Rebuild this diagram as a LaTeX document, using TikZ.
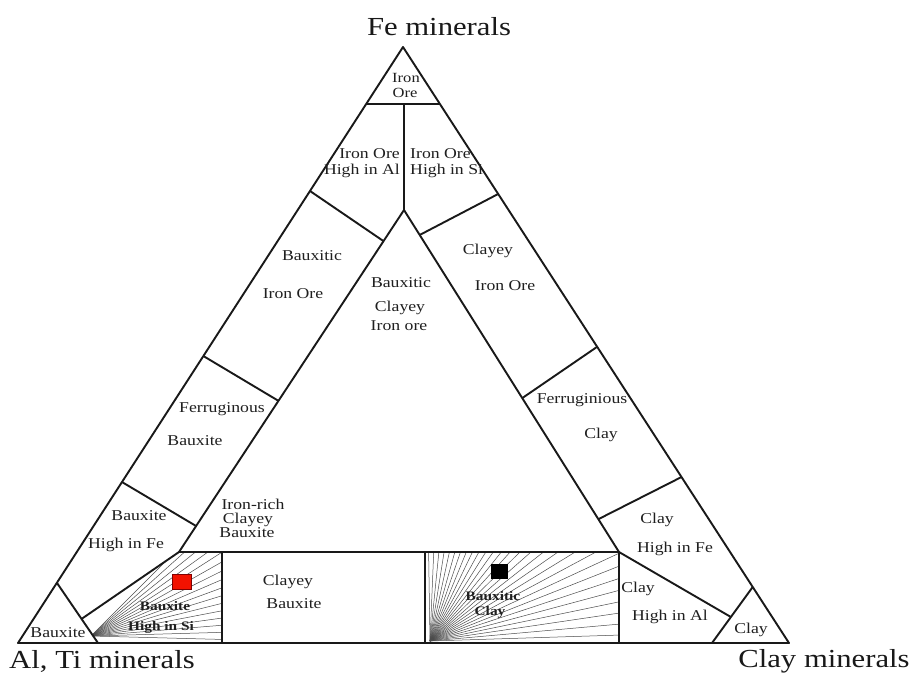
\documentclass[tikz,border=0pt]{standalone}
\usepackage{fontspec}
\setmainfont{Liberation Serif}
\usetikzlibrary{calc}
\begin{document}
\begin{tikzpicture}[x=1pt,y=-1pt,
  edge/.style={line width=1.9pt, line join=round, black!90},
  hatch/.style={line width=0.5pt, black!70},
  lbl/.style={font=\fontsize{15}{18}\selectfont, xscale=1.18, anchor=base, inner sep=0pt, text=black!88},
  lbs/.style={lbl, font=\fontsize{14}{16}\selectfont},
  lbb/.style={lbl, font=\fontsize{13}{15}\selectfont\bfseries},
  big/.style={font=\fontsize{26}{30}\selectfont, xscale=1.18, anchor=base, inner sep=0pt, text=black!90}]
\fill[white] (0,0) rectangle (911,673);
\useasboundingbox (0,0) rectangle (911,673);
% main corners
\coordinate (A) at (18,643);
\coordinate (B) at (789,643);
\coordinate (C) at (403,47);
\coordinate (I) at (404,210);
\coordinate (L) at (179,552);
\coordinate (R) at (619,552);
\coordinate (M) at (404,104);
\coordinate (V1t) at (222,552);
\coordinate (V1b) at (222,643);
\coordinate (V2t) at (425,552);
\coordinate (V2b) at (425,643);
\coordinate (BT1) at ($(C)!0.899!(A)$);
\coordinate (BT2) at (98,643);
\coordinate (P) at ($(BT1)!0.60!(BT2)$);
\coordinate (CT1) at ($(C)!0.906!(B)$);
\coordinate (CT2) at (712,643);
\coordinate (Q) at ($(CT1)!0.536!(CT2)$);
\coordinate (F1) at (91,636);
\coordinate (F2) at (430,641);
% hatching, left fan
\begin{scope}
  \clip (P) -- (L) -- (V1t) -- (V1b) -- (BT2) -- cycle;
  \foreach \a in {-1.5,1.6,...,46} \draw[hatch] (F1) -- ++(\a:300pt);
\end{scope}
% hatching, right fan
\begin{scope}
  \clip (V2t) rectangle (R |- V2b);
  \foreach \a in {1.8,5.1,...,92} \draw[hatch] (F2) -- ++(\a:400pt);
\end{scope}
% markers
\fill[red!85!orange!95!black, draw=red!50!black, line width=0.5pt] (172,574) rectangle (191,589);
\fill[black] (491,564) rectangle (508,579);
% outer and inner triangles
\draw[edge] (A) -- (B) -- (C) -- cycle;
\draw[edge] (I) -- (L) -- (R) -- cycle;
% top partitions
\draw[edge] ($(C)!0.0956!(A)$) -- ($(C)!0.0956!(B)$);
\draw[edge] (M) -- (I);
% left dividers
\draw[edge] ($(C)!0.2416!(A)$) -- ($(I)!0.091!(L)$);
\draw[edge] ($(C)!0.5185!(A)$) -- ($(I)!0.558!(L)$);
\draw[edge] ($(C)!0.7299!(A)$) -- ($(I)!0.924!(L)$);
% right dividers
\draw[edge] ($(C)!0.2466!(B)$) -- ($(I)!0.073!(R)$);
\draw[edge] ($(C)!0.503!(B)$) -- ($(I)!0.55!(R)$);
\draw[edge] ($(C)!0.7215!(B)$) -- ($(I)!0.904!(R)$);
% bottom partitions
\draw[edge] (BT1) -- (BT2);
\draw[edge] (L) -- (P);
\draw[edge] (V1t) -- (V1b);
\draw[edge] (V2t) -- (V2b);
\draw[edge] (R) -- (R |- V2b);
\draw[edge] (CT1) -- (CT2);
\draw[edge] (R) -- (Q);
% corner titles
\node[big] (tFe) at (439,35) {Fe minerals};
\node[big] (tAl) at (102,668) {Al, Ti minerals};
\node[big] (tCl) at (824,667) {Clay minerals};
% region labels
\node[lbs] (t1) at (406,82) {Iron};
\node[lbs] (t2) at (405,97) {Ore};
\node[lbl, anchor=base east] (t3) at (400,158) {Iron Ore};
\node[lbl, anchor=base east] (t4) at (400,174) {High in Al};
\node[lbl, anchor=base west] (t5) at (410,158) {Iron Ore};
\node[lbl, anchor=base west] (t6) at (410,174) {High in Si};
\node[lbl] (t7) at (312,260) {Bauxitic};
\node[lbl] (t8) at (293,298) {Iron Ore};
\node[lbl] (t9) at (401,287) {Bauxitic};
\node[lbl] (t10) at (400,311) {Clayey};
\node[lbl] (t11) at (399,330) {Iron ore};
\node[lbl] (t12) at (488,254) {Clayey};
\node[lbl] (t13) at (505,290) {Iron Ore};
\node[lbl] (t14) at (222,412) {Ferruginous};
\node[lbl] (t15) at (195,445) {Bauxite};
\node[lbl] (t16) at (582,403) {Ferruginious};
\node[lbl] (t17) at (601,438) {Clay};
\node[lbl] (t18) at (139,520) {Bauxite};
\node[lbl] (t19) at (126,548) {High in Fe};
\node[lbl] (t20) at (253,509) {Iron-rich};
\node[lbl] (t21) at (248,523) {Clayey};
\node[lbl] (t22) at (247,537) {Bauxite};
\node[lbl] (t23) at (657,523) {Clay};
\node[lbl] (t24) at (675,552) {High in Fe};
\node[lbl] (t25) at (288,585) {Clayey};
\node[lbl] (t26) at (294,608) {Bauxite};
\node[lbl] (t27) at (638,592) {Clay};
\node[lbl] (t28) at (670,620) {High in Al};
\node[lbl] (t29) at (751,633) {Clay};
\node[lbl] (t30) at (58,637) {Bauxite};
\node[lbb] (t31) at (165,610) {Bauxite};
\node[lbb] (t32) at (161,630) {High in Si};
\node[lbb] (t33) at (493,600) {Bauxitic};
\node[lbb] (t34) at (490,615) {Clay};
\end{tikzpicture}
\end{document}
